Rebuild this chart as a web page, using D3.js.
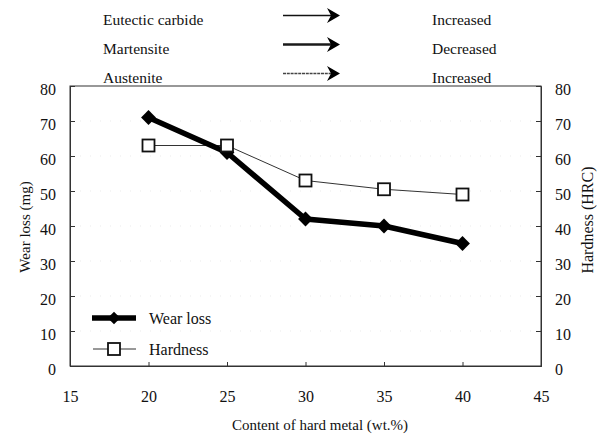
<!DOCTYPE html>
<html>
<head>
<meta charset="utf-8">
<script src="https://cdn.jsdelivr.net/npm/d3@7"></script>
<style>
  body { margin: 0; background: #fff; }
  svg text { font-family: "Liberation Serif", "DejaVu Serif", serif !important; }
</style>
</head>
<body>
<svg id="chart" width="608" height="434"></svg>
<script>
// Hard-metal content (wt.%)
const content = [20, 25, 30, 35, 40];
// Wear loss (mg)
const wearLoss = [71, 61, 42, 40, 35];
// Hardness (HRC)
const hardness = [63, 63, 53, 50.5, 49];
const xTicks = [15, 20, 25, 30, 35, 40, 45];
const yTicks = [0, 10, 20, 30, 40, 50, 60, 70, 80];
// Microstructure trend notes above the plot
const phases = ["Eutectic carbide", "Martensite", "Austenite"];
const trends = ["Increased", "Decreased", "Increased"];

const svg = d3.select("#chart");
const m = { left: 70, right: 541, top: 86, bottom: 366 };

const x = d3.scaleLinear().domain([15, 45]).range([m.left, m.right]);
const yL = d3.scaleLinear().domain([0, 80]).range([m.bottom, m.top]);
const yR = d3.scaleLinear().domain([0, 80]).range([m.bottom, m.top]);

// faint dotted gridlines
const grid = svg.append("g");
grid.selectAll("line.h").data(yTicks.slice(1, -1)).join("line")
  .attr("x1", m.left).attr("x2", m.right)
  .attr("y1", d => yL(d)).attr("y2", d => yL(d))
  .attr("stroke", "#ddd").attr("stroke-width", 0.6).attr("stroke-dasharray", "1,9");

// frame
svg.append("rect").attr("x", m.left).attr("y", m.top)
  .attr("width", m.right - m.left).attr("height", m.bottom - m.top)
  .attr("fill", "none").attr("stroke", "#333").attr("stroke-width", 1);

// axes with inward ticks
const fs = 16;
const axL = svg.append("g").attr("transform", `translate(${m.left},0)`)
  .call(d3.axisRight(yL).tickValues(yTicks).tickSize(5).tickFormat(d3.format("d")));
axL.selectAll("text").attr("x", -14).attr("y", 3).attr("text-anchor", "end");

const axR = svg.append("g").attr("transform", `translate(${m.right},0)`)
  .call(d3.axisLeft(yR).tickValues(yTicks).tickSize(5).tickFormat(d3.format("d")));
axR.selectAll("text").attr("x", 14).attr("y", 3).attr("text-anchor", "start");

const axB = svg.append("g").attr("transform", `translate(0,${m.bottom})`)
  .call(d3.axisTop(x).tickValues(xTicks).tickSize(4).tickFormat(d3.format("d")));
axB.selectAll("text").attr("y", 36).attr("dy", "0");

[axL, axR, axB].forEach(a => {
  a.attr("font-size", fs);
  a.select(".domain").attr("stroke", "#333");
  a.selectAll(".tick line").attr("stroke", "#333");
  a.selectAll("text").attr("fill", "#111");
});

// axis titles
const txt = (size) => (sel) => sel.attr("font-size", size).attr("fill", "#111");
svg.append("text").attr("x", 320).attr("y", 430).attr("text-anchor", "middle")
  .call(txt(15)).text("Content of hard metal (wt.%)");
svg.append("text").attr("transform", "translate(30,227) rotate(-90)")
  .attr("text-anchor", "middle").call(txt(15)).text("Wear loss (mg)");
svg.append("text").attr("transform", "translate(593,220) rotate(-90)")
  .attr("text-anchor", "middle").call(txt(16)).text("Hardness (HRC)");

// series
const hardLine = d3.line().x((d, i) => x(content[i])).y(d => yR(d));
svg.append("path").datum(hardness).attr("d", hardLine)
  .attr("fill", "none").attr("stroke", "#333").attr("stroke-width", 1);

const wearLine = d3.line().x((d, i) => x(content[i])).y(d => yL(d));
svg.append("path").datum(wearLoss).attr("d", wearLine)
  .attr("fill", "none").attr("stroke", "#000").attr("stroke-width", 5.5)
  .attr("stroke-linejoin", "round");

svg.append("g").selectAll("path").data(wearLoss).join("path")
  .attr("transform", (d, i) => `translate(${x(content[i])},${yL(d)}) rotate(45)`)
  .attr("d", d3.symbol().type(d3.symbolSquare).size(110))
  .attr("fill", "#000");

svg.append("g").selectAll("rect").data(hardness).join("rect")
  .attr("x", (d, i) => x(content[i]) - 6).attr("y", d => yR(d) - 6)
  .attr("width", 12).attr("height", 12)
  .attr("fill", "#fff").attr("stroke", "#111").attr("stroke-width", 1.8);

// legend
const lg = svg.append("g");
lg.append("line").attr("x1", 92).attr("x2", 136).attr("y1", 318).attr("y2", 318)
  .attr("stroke", "#000").attr("stroke-width", 5.5);
lg.append("path").attr("transform", "translate(114,318) rotate(45)")
  .attr("d", d3.symbol().type(d3.symbolSquare).size(80)).attr("fill", "#000");
lg.append("text").attr("x", 149).attr("y", 324).call(txt(16)).text("Wear loss");
lg.append("line").attr("x1", 93).attr("x2", 136).attr("y1", 349).attr("y2", 349)
  .attr("stroke", "#333").attr("stroke-width", 1);
lg.append("rect").attr("x", 108).attr("y", 343).attr("width", 12).attr("height", 12)
  .attr("fill", "#fff").attr("stroke", "#111").attr("stroke-width", 1.8);
lg.append("text").attr("x", 149).attr("y", 355).call(txt(16)).text("Hardness");

// microstructure notes with arrows
const arrowW = [1.5, 2.5, 1.3];
const arrowDash = [null, null, "3,0.8"];
const arrowC = ["#111", "#1a1a1a", "#444"];
const rowY = d3.scalePoint().domain(phases).range([25, 83]);
const notes = svg.append("g");
phases.forEach((p, i) => {
  const base = rowY(p);
  const yy = base - 9.5;
  notes.append("text").attr("x", 103).attr("y", base).call(txt(15.5)).text(p);
  notes.append("line").attr("x1", 283).attr("x2", 331).attr("y1", yy).attr("y2", yy)
    .attr("stroke", arrowC[i]).attr("stroke-width", arrowW[i])
    .attr("stroke-dasharray", arrowDash[i]);
  notes.append("path")
    .attr("d", `M327,${yy - 7.5} L340,${yy} L327,${yy + 7.5} L331,${yy} Z`)
    .attr("fill", "#000");
  notes.append("text").attr("x", 432).attr("y", base).call(txt(15.5)).text(trends[i]);
});
</script>
</body>
</html>
